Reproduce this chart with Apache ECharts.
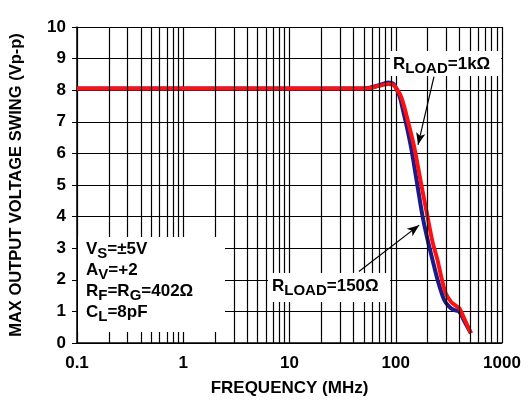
<!DOCTYPE html>
<html><head><meta charset="utf-8">
<script src="https://cdn.jsdelivr.net/npm/echarts@6/dist/echarts.min.js"></script>
<style>html,body{margin:0;padding:0;background:#fff}#c{width:528px;height:405px}</style>
</head><body><div id="c"></div>
<script>
// Frequency in MHz, output swing in Vp-p
const freq1k = [0.1, 10, 40, 55, 70, 85, 95, 104, 112, 120, 133, 149, 172, 199, 222, 247, 270, 296, 330, 360, 396, 440, 510];
const volt1k = [8.05, 8.05, 8.05, 8.06, 8.14, 8.2, 8.17, 8.0, 7.8, 7.48, 6.9, 6.21, 5.1, 4.0, 3.2, 2.63, 2.05, 1.57, 1.31, 1.2, 1.1, 0.78, 0.31];
const freq150 = [0.1, 10, 40, 55, 70, 85, 95, 103, 110, 115, 127, 139, 158, 179, 200, 222, 250, 286, 318, 350, 396, 440, 510];
const volt150 = [8.05, 8.05, 8.05, 8.07, 8.16, 8.24, 8.2, 8.0, 7.75, 7.48, 6.85, 6.21, 5.1, 4.0, 3.25, 2.63, 1.95, 1.36, 1.15, 1.05, 0.99, 0.7, 0.31];
const xTicks = [0.1, 1, 10, 100, 1000];
const yTicks = [0, 1, 2, 3, 4, 5, 6, 7, 8, 9, 10];
const minorMultipliers = [2, 3, 4, 5, 6, 7, 8, 9];
const arrow1k = [[229, 8.43], [162, 6.27]];
const arrow150 = [[45, 2.26], [166, 3.73]];

const minorLines = [];
[0.1, 1, 10, 100].forEach(d => minorMultipliers.forEach(m => minorLines.push({ xAxis: +(d * m).toPrecision(3) })));

const FONT = '"Liberation Sans", Arial, sans-serif';
const chart = echarts.init(document.getElementById('c'));
const rich = {
  a: { fontFamily: FONT, fontWeight: 'bold', fontSize: 17, color: '#000', lineHeight: 21 },
  s: { fontFamily: FONT, fontWeight: 'bold', fontSize: 15, color: '#000', lineHeight: 21, padding: [9, 0, 0, 0] }
};
chart.setOption({
  animation: false,
  grid: { left: 77, right: 26, top: 27, bottom: 62 },
  xAxis: {
    type: 'log', logBase: 10, min: 0.1, max: 1000,
    name: 'FREQUENCY (MHz)', nameLocation: 'middle', nameGap: 37,
    nameTextStyle: { fontFamily: FONT, fontWeight: 'bold', fontSize: 17, color: '#000' },
    axisLine: { show: true, lineStyle: { color: '#000', width: 1.5 } },
    axisTick: { show: false },
    axisLabel: { fontFamily: FONT, fontWeight: 'bold', fontSize: 17, color: '#000', margin: 12,
      formatter: v => xTicks.includes(+v) ? String(+v) : '' },
    splitLine: { show: true, lineStyle: { color: '#000', width: 1.2 } }
  },
  yAxis: {
    type: 'value', min: 0, max: 10, interval: 1,
    name: 'MAX OUTPUT VOLTAGE SWING (Vp-p)', nameLocation: 'middle', nameGap: 52,
    nameTextStyle: { fontFamily: FONT, fontWeight: 'bold', fontSize: 16.5, color: '#000' },
    axisLine: { show: true, lineStyle: { color: '#000', width: 1.5 } },
    axisTick: { show: true, inside: false, length: 5, lineStyle: { color: '#000' } },
    axisLabel: { fontFamily: FONT, fontWeight: 'bold', fontSize: 17, color: '#000', margin: 11,
      formatter: v => yTicks.includes(v) ? String(v) : '' },
    splitLine: { show: true, lineStyle: { color: '#000', width: 1.2 } }
  },
  series: [
    {
      type: 'line', data: [], silent: true,
      markLine: { silent: true, symbol: ['none', 'none'], label: { show: false },
        lineStyle: { color: '#000', width: 1.2, type: 'solid' }, data: minorLines }
    },
    {
      name: 'RLOAD=150', type: 'line', showSymbol: false, smooth: 0.3,
      data: freq150.map((f, i) => [f, volt150[i]]),
      lineStyle: { color: '#1c1a8a', width: 4 }, z: 3
    },
    {
      name: 'RLOAD=1k', type: 'line', showSymbol: false, smooth: 0.3,
      data: freq1k.map((f, i) => [f, volt1k[i]]),
      lineStyle: { color: '#ff1010', width: 4 }, z: 4
    },
    {
      type: 'line', data: [], silent: true,
      markLine: { silent: true, symbol: ['none', 'arrow'], symbolSize: [7, 12], label: { show: false },
        lineStyle: { color: '#000', width: 1.2, type: 'solid' },
        data: [
          [{ coord: arrow1k[0] }, { coord: arrow1k[1] }],
          [{ coord: arrow150[0] }, { coord: arrow150[1] }]
        ] }
    }
  ],
  graphic: [
    { type: 'rect', z: 100, shape: { x: 78, y: 237, width: 147, height: 95 }, style: { fill: '#fff' } },
    { type: 'rect', z: 100, shape: { x: 268, y: 273, width: 122, height: 29 }, style: { fill: '#fff' } },
    { type: 'rect', z: 100, shape: { x: 390, y: 51, width: 111, height: 25 }, style: { fill: '#fff' } },
    { type: 'text', z: 101, left: 86, top: 237, style: { text: '{a|V}{s|S}{a|=±5V}', rich } },
    { type: 'text', z: 101, left: 86, top: 258, style: { text: '{a|A}{s|V}{a|=+2}', rich } },
    { type: 'text', z: 101, left: 86, top: 279, style: { text: '{a|R}{s|F}{a|=R}{s|G}{a|=402Ω}', rich } },
    { type: 'text', z: 101, left: 86, top: 300, style: { text: '{a|C}{s|L}{a|=8pF}', rich } },
    { type: 'text', z: 101, left: 272, top: 274, style: { text: '{a|R}{s|LOAD}{a|=150Ω}', rich } },
    { type: 'text', z: 101, left: 393, top: 52, style: { text: '{a|R}{s|LOAD}{a|=1kΩ}', rich } }
  ]
});
</script></body></html>
